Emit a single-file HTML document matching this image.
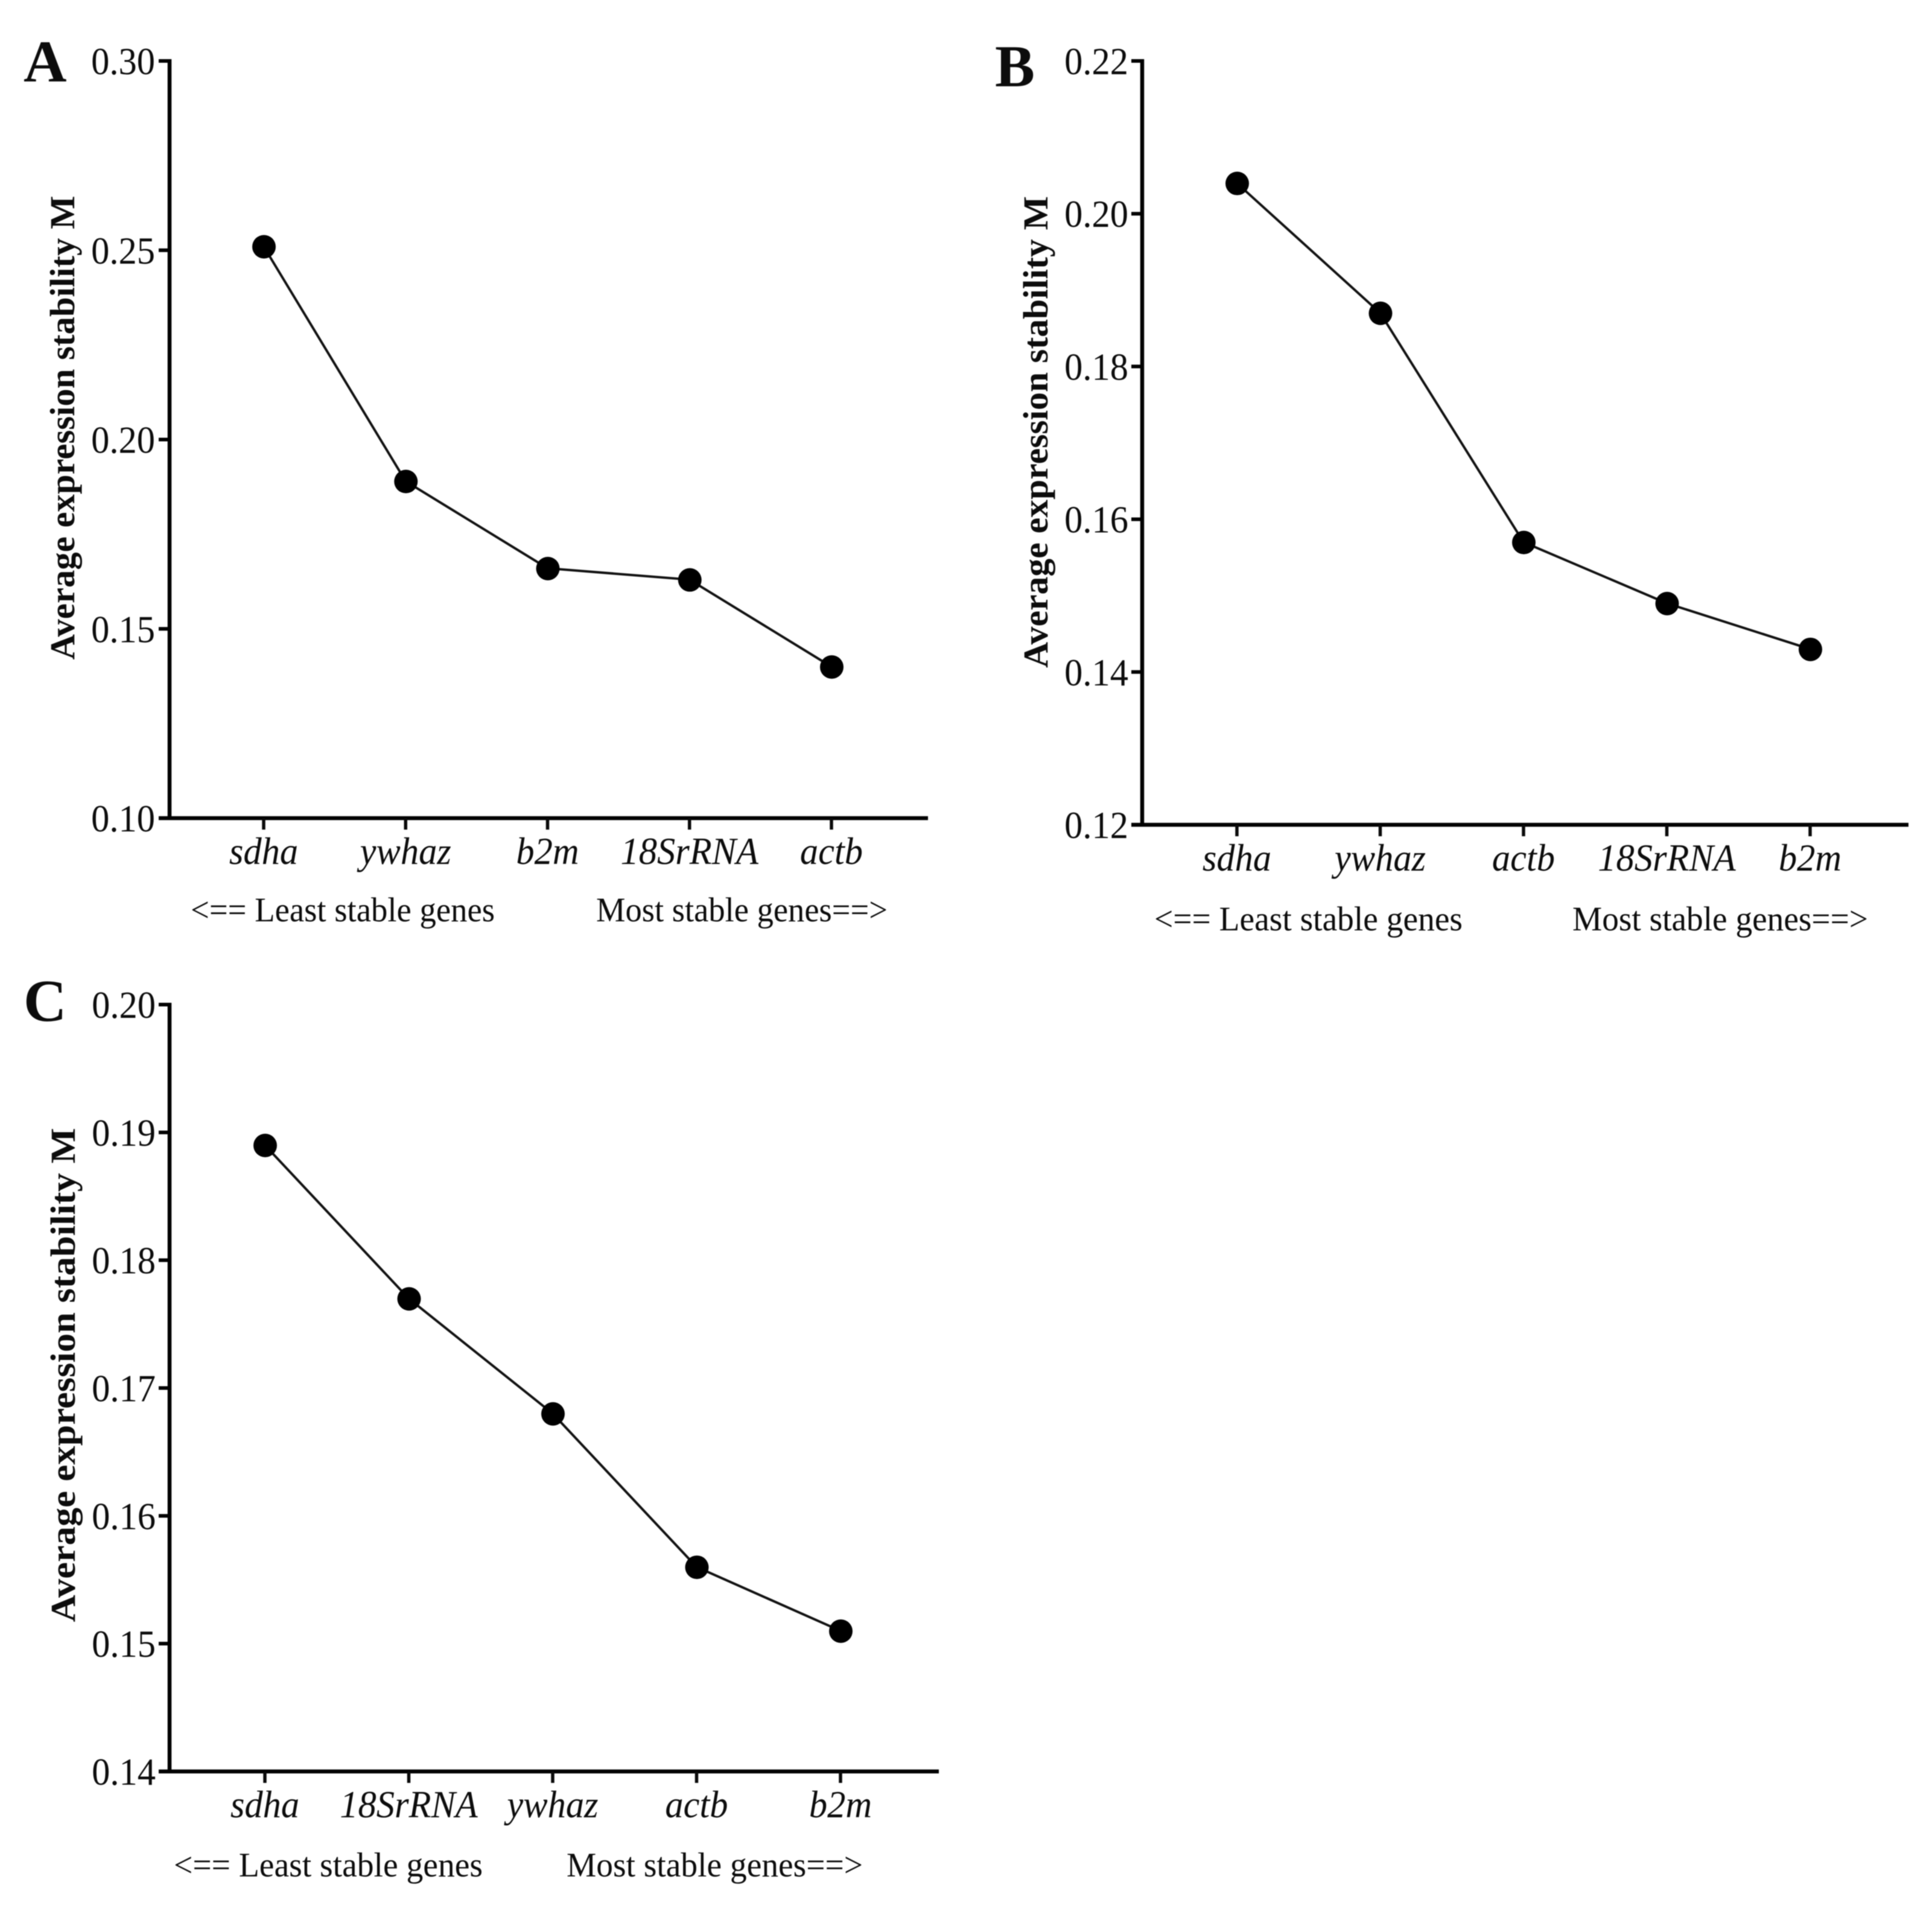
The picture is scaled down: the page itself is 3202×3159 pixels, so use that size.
<!DOCTYPE html>
<html lang="en">
<head>
<meta charset="utf-8">
<title>Average expression stability M</title>
<style>
html,body{margin:0;padding:0;background:#fff;width:3202px;height:3159px;overflow:hidden}
svg{display:block;position:absolute;left:0;top:0;filter:blur(0.8px)}
text{font-family:"Liberation Serif",serif;fill:#0c0c0c}
</style>
</head>
<body>
<svg id="chart" width="3202" height="3159" viewBox="0 0 3202 3159" xmlns="http://www.w3.org/2000/svg"></svg>
<script>
const categoriesA = ['sdha', 'ywhaz', 'b2m', '18SrRNA', 'actb'];
const valuesA = [0.251, 0.189, 0.166, 0.163, 0.140];
const ticksA = ['0.10', '0.15', '0.20', '0.25', '0.30'];

const categoriesB = ['sdha', 'ywhaz', 'actb', '18SrRNA', 'b2m'];
const valuesB = [0.204, 0.187, 0.157, 0.149, 0.143];
const ticksB = ['0.12', '0.14', '0.16', '0.18', '0.20', '0.22'];

const categoriesC = ['sdha', '18SrRNA', 'ywhaz', 'actb', 'b2m'];
const valuesC = [0.189, 0.177, 0.168, 0.156, 0.151];
const ticksC = ['0.14', '0.15', '0.16', '0.17', '0.18', '0.19', '0.20'];

const yTitleText = 'Average expression stability M';
const leastText = '<== Least stable genes';
const mostText = 'Most stable genes==>';

const svg = document.getElementById('chart');
const NS = 'http://www.w3.org/2000/svg';

function make(tag, attrs, parent) {
  const node = document.createElementNS(NS, tag);
  for (const k in attrs) node.setAttribute(k, attrs[k]);
  parent.appendChild(node);
  return node;
}

function squeeze(node, factor) {
  const w = node.getComputedTextLength();
  node.setAttribute('textLength', w * factor);
  node.setAttribute('lengthAdjust', 'spacingAndGlyphs');
}

function drawPanel(letter, categories, values, ticks, g) {
  const panel = make('g', {}, svg);
  
  

  const tickNums = ticks.map(Number);
  const yMin = Math.min(...tickNums);
  const yMax = Math.max(...tickNums);
  const yScale = v => g.bottom + (v - yMin) / (yMax - yMin) * (g.top - g.bottom);
  const xScale = i => g.firstX + i * g.stepX;

  const letterEl = make('text', {x: g.letterX, y: g.letterY, 'font-size': 99, 'font-weight': 'bold'}, panel);
  letterEl.textContent = letter;
  
  

  const titleEl = make('text', {
    transform: 'translate(' + g.titleX + ',' + g.titleY + ') rotate(-90)',
    x: 0, y: 0, 'font-size': 58, 'font-weight': 'bold', 'text-anchor': 'middle',
    textLength: g.titleLen, lengthAdjust: 'spacingAndGlyphs'
  }, panel);
  titleEl.textContent = yTitleText;
  
  

  const yAxis = make('line', {x1: g.axisX, x2: g.axisX, y1: g.top - 3, y2: g.bottom + 3, stroke: '#000', 'stroke-width': 6.5}, panel);
  
  

  const xAxis = make('line', {x1: g.axisX - 18, x2: g.rightX + 2, y1: g.bottom, y2: g.bottom, stroke: '#000', 'stroke-width': 6.5}, panel);
  
  

  ticks.forEach(function (t) {
    const y = yScale(Number(t));
    const tickEl = make('line', {x1: g.axisX - 18, x2: g.axisX, y1: y, y2: y, stroke: '#000', 'stroke-width': 6}, panel);
    
    
    const labelEl = make('text', {x: g.tickLabelX, y: y + 22, 'font-size': 63, 'text-anchor': 'end'}, panel);
    labelEl.textContent = t;
    
    
    squeeze(labelEl, 0.96);
  });

  categories.forEach(function (c, i) {
    const x = xScale(i);
    const tickEl = make('line', {x1: x, x2: x, y1: g.bottom, y2: g.bottom + 19, stroke: '#0a0a0a', 'stroke-width': 5.5}, panel);
    
    
    const labelEl = make('text', {x: x, y: g.catY, 'font-size': 63, 'font-style': 'italic', 'text-anchor': 'middle'}, panel);
    labelEl.textContent = c;
    
    
    squeeze(labelEl, 0.96);
  });

  const linePoints = values.map((v, i) => xScale(i) + ',' + yScale(v)).join(' ');
  const seriesLine = make('polyline', {points: linePoints, fill: 'none', stroke: '#111', 'stroke-width': 4}, panel);
  
  

  values.forEach(function (v, i) {
    const dot = make('circle', {cx: xScale(i) + 0.5, cy: yScale(v) + 0.5, r: 19.5, fill: '#000'}, panel);
    
    
  });

  const leastEl = make('text', {x: g.leastX, y: g.noteY, 'font-size': 57, textLength: g.leastLen, lengthAdjust: 'spacingAndGlyphs'}, panel);
  leastEl.textContent = leastText;
  
  

  const mostEl = make('text', {x: g.mostX, y: g.noteY, 'font-size': 57, textLength: g.mostLen, lengthAdjust: 'spacingAndGlyphs'}, panel);
  mostEl.textContent = mostText;
  
  
}

drawPanel('A', categoriesA, valuesA, ticksA, {
  axisX: 281, top: 101, bottom: 1356, rightX: 1536, firstX: 437, stepX: 235.25,
  tickLabelX: 257, catY: 1432, noteY: 1527, letterX: 39, letterY: 135,
  titleX: 123, titleY: 709, titleLen: 769,
  leastX: 316, leastLen: 504, mostX: 988, mostLen: 483
});
drawPanel('B', categoriesB, valuesB, ticksB, {
  axisX: 1893, top: 101, bottom: 1367, rightX: 3161, firstX: 2050, stepX: 237.5,
  tickLabelX: 1870, catY: 1443, noteY: 1542, letterX: 1649, letterY: 143,
  titleX: 1736, titleY: 716, titleLen: 782,
  leastX: 1913, leastLen: 511, mostX: 2606, mostLen: 490
});
drawPanel('C', categoriesC, valuesC, ticksC, {
  axisX: 281, top: 1665, bottom: 2936, rightX: 1554, firstX: 439, stepX: 238.5,
  tickLabelX: 258, catY: 3012, noteY: 3110, letterX: 39, letterY: 1692,
  titleX: 124, titleY: 2279, titleLen: 819,
  leastX: 288, leastLen: 512, mostX: 939, mostLen: 491
});
</script>
</body>
</html>
